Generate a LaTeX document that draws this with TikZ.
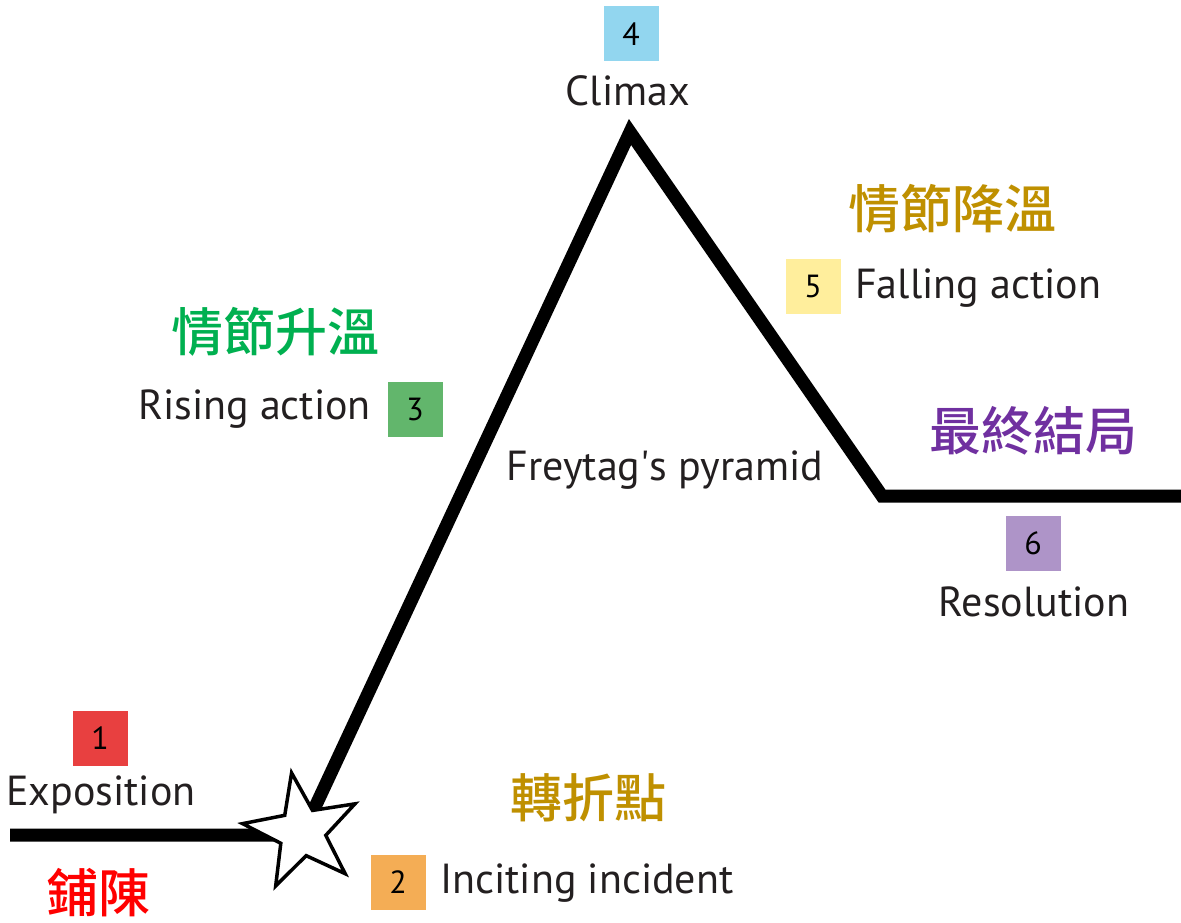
\documentclass[tikz,border=0pt]{standalone}
\usepackage{fontspec}
\setmainfont{PT Sans}
\newfontfamily\cjk{Noto Sans CJK TC Medium}
\definecolor{txt}{HTML}{231F20}
\definecolor{c1}{HTML}{E84040}
\definecolor{c2}{HTML}{F4AD55}
\definecolor{c3}{HTML}{62B66C}
\definecolor{c4}{HTML}{92D6EF}
\definecolor{c5}{HTML}{FFEE9C}
\definecolor{c6}{HTML}{AE94C8}
\definecolor{cjred}{HTML}{FF0000}
\definecolor{cjgold}{HTML}{BF9000}
\definecolor{cjgreen}{HTML}{00B050}
\definecolor{cjpurple}{HTML}{7030A0}
\tikzset{
  numbox/.style={minimum size=55pt, inner sep=0pt, text=black, font=\fontsize{32}{32}\selectfont},
  lbl/.style={inner sep=0pt, text=txt, font=\fontsize{42}{42}\selectfont},
  cj/.style={inner sep=0pt, font=\cjk\fontsize{52}{52}\selectfont},
  pyr/.style={line width=13pt, line join=miter, line cap=butt},
  starline/.style={line width=3.5pt, fill=white, line join=miter}
}
\begin{document}
\begin{tikzpicture}[x=1pt,y=-1pt]
\useasboundingbox[fill=white] (0,0) rectangle (1181,923);
% main line
\coordinate (L) at (10,835);
\coordinate (S) at (302,835);
\coordinate (A) at (630,132);
\coordinate (R) at (882,496);
\coordinate (E) at (1181,496);
\draw[pyr] (L) -- (S) -- (A) -- (R) -- (E);
% star
\coordinate (st) at (302,832);
\draw[starline] ([shift={(260:60)}]st) -- ([shift={(296:24)}]st)
  -- ([shift={(332:60)}]st) -- ([shift={(8:24)}]st)
  -- ([shift={(44:60)}]st) -- ([shift={(80:24)}]st)
  -- ([shift={(116:60)}]st) -- ([shift={(152:24)}]st)
  -- ([shift={(188:60)}]st) -- ([shift={(224:24)}]st) -- cycle;
% 1
\node[numbox, fill=c1] (b1) at (100,738) {1};
\node[lbl] (t1) at (101,795) {Exposition};
\node[cj, text=cjred] (k1) at (98,893) {鋪陳};
% 2
\node[numbox, fill=c2] (b2) at (398,882) {2};
\node[lbl, anchor=west] (t2) at (440,883) {Inciting incident};
\node[cj, text=cjgold] (k2) at (588,798) {轉折點};
% 3
\node[numbox, fill=c3] (b3) at (415,409) {3};
\node[lbl, anchor=east] (t3) at (371,409) {Rising action};
\node[cj, text=cjgreen] (k3) at (275,332) {情節升溫};
% 4
\node[numbox, fill=c4] (b4) at (631,34) {4};
\node[lbl] (t4) at (628,91) {Climax};
% 5
\node[numbox, fill=c5] (b5) at (813,286) {5};
\node[lbl, anchor=west] (t5) at (855,288) {Falling action};
\node[cj, text=cjgold] (k5) at (952,209) {情節降溫};
% 6
\node[numbox, fill=c6] (b6) at (1033,543) {6};
\node[lbl] (t6) at (1034,602) {Resolution};
\node[cj, text=cjpurple] (k6) at (1033,431) {最終結局};
% title
\node[lbl] (title) at (665,470) {Freytag\textquotesingle s pyramid};
\end{tikzpicture}
\end{document}
